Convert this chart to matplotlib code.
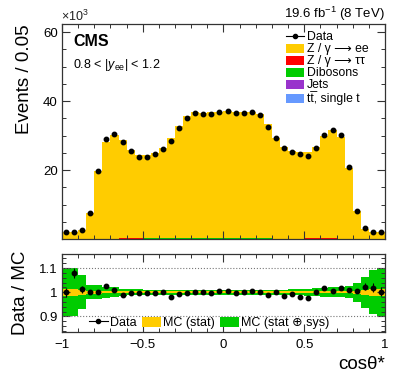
import numpy as np
import matplotlib
matplotlib.use("Agg")
import matplotlib.pyplot as plt
from matplotlib.ticker import MultipleLocator, FixedLocator
from matplotlib.patches import Patch
from matplotlib.lines import Line2D

plt.rcParams['font.family'] = ['Liberation Sans', 'DejaVu Sans']
plt.rcParams['mathtext.fontset'] = 'custom'
plt.rcParams['mathtext.rm'] = 'Liberation Sans'
plt.rcParams['mathtext.it'] = 'Liberation Sans:italic'

# binning in cos(theta*)
edges = np.linspace(-1, 1, 41)
centers = 0.5 * (edges[:-1] + edges[1:])

# events per bin (x10^3)
data = [2.1, 2.1, 2.7, 7.4, 19.6, 28.9, 30.5, 28.2, 25.5, 23.9,
        23.9, 24.6, 26.2, 28.5, 32.3, 35.1, 36.4, 36.3, 36.3, 36.8,
        37.1, 36.4, 36.5, 36.7, 36.0, 32.6, 29.3, 26.3, 25.3, 24.7,
        24.2, 26.5, 30.1, 31.5, 30.2, 20.9, 8.0, 3.1, 2.1, 2.1]
mc_zee = [2.1, 1.95, 2.67, 7.4, 19.6, 28.2, 30.2, 28.5, 25.6, 24.0,
          24.0, 24.7, 26.2, 29.0, 32.6, 35.3, 36.4, 36.3, 36.4, 36.5,
          36.9, 36.5, 36.4, 36.6, 36.0, 33.0, 29.3, 26.7, 25.5, 25.2,
          24.8, 26.5, 29.6, 31.3, 29.6, 20.7, 8.0, 3.0, 2.06, 2.1]
mc_tautau = [0.0, 0.0, 0.0, 0.0, 0.0, 0.0, 0.0, 0.3, 0.3, 0.3,
             0.0, 0.0, 0.0, 0.0, 0.0, 0.0, 0.0, 0.0, 0.0, 0.0,
             0.0, 0.0, 0.0, 0.0, 0.0, 0.0, 0.0, 0.0, 0.0, 0.0,
             0.3, 0.3, 0.3, 0.3, 0.0, 0.0, 0.0, 0.0, 0.0, 0.0]
mc_diboson = [0.0, 0.0, 0.0, 0.0, 0.0, 0.0, 0.0, 0.0, 0.0, 0.0,
              0.3, 0.3, 0.3, 0.3, 0.3, 0.3, 0.3, 0.3, 0.3, 0.3,
              0.3, 0.3, 0.3, 0.3, 0.3, 0.3, 0.0, 0.0, 0.0, 0.0,
              0.0, 0.0, 0.0, 0.0, 0.0, 0.0, 0.0, 0.0, 0.0, 0.0]
mc_jets = [0.0] * 40
mc_ttbar = [0.0] * 40

# ratio panel
ratio = [0.999, 1.079, 1.012, 0.999, 1.000, 1.025, 1.011, 0.989, 0.997, 0.995,
         0.995, 0.996, 1.000, 0.981, 0.992, 0.995, 1.001, 1.001, 0.997, 1.007,
         1.006, 0.996, 1.003, 1.004, 0.999, 0.989, 1.000, 0.985, 0.992, 0.979,
         0.975, 1.000, 1.017, 1.006, 1.019, 1.011, 1.004, 1.023, 1.019, 1.003]
ratio_err = [0.02, 0.02, 0.015, 0.006, 0.005, 0.004, 0.004, 0.003, 0.003, 0.003,
             0.003, 0.003, 0.003, 0.003, 0.003, 0.003, 0.003, 0.003, 0.003, 0.003,
             0.003, 0.003, 0.003, 0.003, 0.003, 0.003, 0.003, 0.003, 0.003, 0.003,
             0.003, 0.003, 0.003, 0.004, 0.004, 0.004, 0.006, 0.015, 0.02, 0.02]
stat_band = [0.015, 0.015, 0.010, 0.006, 0.006, 0.005, 0.004, 0.004, 0.004, 0.004,
             0.004, 0.004, 0.004, 0.004, 0.004, 0.004, 0.004, 0.004, 0.004, 0.004,
             0.004, 0.004, 0.004, 0.004, 0.004, 0.004, 0.004, 0.004, 0.004, 0.004,
             0.004, 0.004, 0.004, 0.005, 0.005, 0.005, 0.006, 0.010, 0.015, 0.015]
total_band = [0.100, 0.100, 0.070, 0.028, 0.028, 0.023, 0.020, 0.015, 0.013, 0.012,
              0.011, 0.011, 0.010, 0.010, 0.010, 0.010, 0.010, 0.010, 0.010, 0.010,
              0.010, 0.010, 0.010, 0.010, 0.010, 0.010, 0.011, 0.011, 0.012, 0.013,
              0.015, 0.016, 0.018, 0.020, 0.020, 0.025, 0.040, 0.065, 0.090, 0.100]

c_zee = '#ffcc00'
c_tau = '#ff0000'
c_dib = '#00cc00'
c_jet = '#9933cc'
c_tt = '#6699ff'
frame = '#333333'

fig = plt.figure(figsize=(3.99, 3.83), dpi=100)
ax = fig.add_axes([0.1554, 0.376, 0.8095, 0.561])
rax = fig.add_axes([0.1554, 0.1332, 0.8095, 0.2037])

# stacked MC
stack = [(mc_ttbar, c_tt), (mc_jets, c_jet), (mc_diboson, c_dib),
         (mc_tautau, c_tau), (mc_zee, c_zee)]
base = np.zeros(40)
for vals, col in stack:
    top = base + np.array(vals)
    ax.stairs(top, edges, baseline=base, fill=True, color=col, lw=0)
    base = top

ax.plot(centers, data, 'o', color='black', ms=3.2, zorder=5)

ax.set_xlim(-1, 1)
ax.set_ylim(0, 62.3)
ax.yaxis.set_major_locator(FixedLocator([20, 40, 60]))
ax.yaxis.set_minor_locator(MultipleLocator(5))
ax.xaxis.set_major_locator(MultipleLocator(0.5))
ax.xaxis.set_minor_locator(MultipleLocator(0.1))
ax.set_xticklabels([])
ax.set_ylabel('Events / 0.05', fontsize=13.5, loc='top', labelpad=7)

for a in (ax, rax):
    a.tick_params(which='both', direction='in', top=True, right=True,
                  labelsize=9.5, color=frame, pad=3)
    a.tick_params(which='major', length=6, width=0.8)
    a.tick_params(which='minor', length=3, width=0.7)
    for s in a.spines.values():
        s.set_color(frame)
        s.set_linewidth(0.9)

fig.text(0.153, 0.945, r'$\times$10$^{3}$', fontsize=9, color='#222222')
ax.text(0.035, 0.92, 'CMS', transform=ax.transAxes, fontsize=11.5,
        fontweight='bold', va='center')
ax.text(0.035, 0.81, r'0.8 < |$\mathit{y}_{\rm ee}$| < 1.2', transform=ax.transAxes,
        fontsize=9, va='center')
fig.text(0.963, 0.953, r'19.6 fb$^{-1}$ (8 TeV)', fontsize=9.5, ha='right')

handles = [Line2D([0], [0], color='black', marker='o', ms=3, lw=0.8),
           Patch(facecolor=c_zee), Patch(facecolor=c_tau), Patch(facecolor=c_dib),
           Patch(facecolor=c_jet), Patch(facecolor=c_tt)]
labels = ['Data', 'Z / \u03b3 \u27f6 ee', 'Z / \u03b3 \u27f6 \u03c4\u03c4',
          'Dibosons', 'Jets', 'tt\u0305, single t']
ax.legend(handles, labels, loc='upper left', bbox_to_anchor=(0.67, 1.0), frameon=False,
          fontsize=8.8, handlelength=1.5, handleheight=0.75, handletextpad=0.2,
          labelspacing=0.0, borderaxespad=0.2)

# ratio panel
rax.stairs(np.array(total_band) + 1, edges, baseline=1 - np.array(total_band),
           fill=True, color=c_dib, lw=0)
rax.stairs(np.array(stat_band) + 1, edges, baseline=1 - np.array(stat_band),
           fill=True, color=c_zee, lw=0)
rax.errorbar(centers, ratio, yerr=ratio_err, fmt='o', color='black', ms=3.2,
             elinewidth=0.8, capsize=0, zorder=5)
rax.axhline(1.1, color='#777777', ls=':', lw=0.8)
rax.axhline(0.9, color='#777777', ls=':', lw=0.8)

rax.set_xlim(-1, 1)
rax.set_ylim(0.836, 1.158)
rax.yaxis.set_major_locator(FixedLocator([0.9, 1.0, 1.1]))
rax.yaxis.set_minor_locator(MultipleLocator(0.02))
rax.set_yticklabels(['0.9', '1', '1.1'])
rax.xaxis.set_major_locator(MultipleLocator(0.5))
rax.xaxis.set_minor_locator(MultipleLocator(0.1))
rax.set_xticklabels(['', '\u22121', '\u22120.5', '0', '0.5', '1'])
rax.tick_params(axis='x', which='major', pad=5)
rax.set_ylabel('Data / MC', fontsize=13.5, labelpad=7)
rax.set_xlabel('cos\u03b8*', fontsize=13.5, loc='right', labelpad=4)

rh = [Line2D([0], [0], color='black', marker='o', ms=3, lw=0.8),
      Patch(facecolor=c_zee), Patch(facecolor=c_dib)]
rl = ['Data', 'MC (stat)', 'MC (stat \u2295 sys)']
rax.legend(rh, rl, loc='lower left', bbox_to_anchor=(0.06, -0.06), ncol=3,
           frameon=False, fontsize=9, handlelength=1.5, handleheight=0.9,
           handletextpad=0.2, columnspacing=0.4, borderaxespad=0.2)

fig.savefig('out.png', dpi=100)
